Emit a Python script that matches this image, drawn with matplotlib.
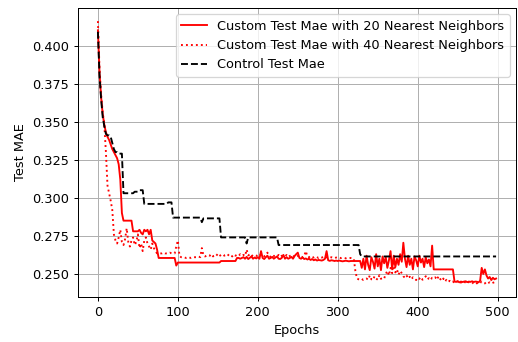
import numpy as np
import matplotlib
matplotlib.use("Agg")
import matplotlib.pyplot as plt

# epochs sampled every 2 epochs
epochs = np.arange(0, 500, 2)

custom_20 = [
    0.410, 0.382, 0.366, 0.355, 0.348, 0.343, 0.340, 0.338, 0.335, 0.332,
    0.330, 0.328, 0.326, 0.322, 0.312, 0.290, 0.285, 0.285, 0.285, 0.285,
    0.285, 0.285, 0.278, 0.278, 0.278, 0.278, 0.279, 0.277, 0.276, 0.279,
    0.278, 0.279, 0.276, 0.279, 0.272, 0.271, 0.270, 0.266, 0.2605, 0.2605,
    0.2605, 0.2605, 0.2605, 0.2605, 0.2605, 0.2605, 0.2605, 0.2605, 0.2605, 0.2555,
    0.2575, 0.2575, 0.2575, 0.2575, 0.2575, 0.2575, 0.2575, 0.2575, 0.2575, 0.2575,
    0.2575, 0.2575, 0.2575, 0.2575, 0.2575, 0.2575, 0.2575, 0.2575, 0.2575, 0.2575,
    0.2575, 0.2575, 0.2575, 0.2575, 0.2575, 0.2575, 0.2575, 0.2585, 0.2585, 0.2585,
    0.2585, 0.2585, 0.2585, 0.2585, 0.2585, 0.2585, 0.2585, 0.2605, 0.2605, 0.2600,
    0.2605, 0.2610, 0.2600, 0.2612, 0.2598, 0.2606, 0.2615, 0.2600, 0.2608, 0.2602,
    0.2610, 0.2600, 0.2650, 0.2605, 0.2598, 0.2610, 0.2620, 0.2600, 0.2605, 0.2612,
    0.2600, 0.2608, 0.2615, 0.2600, 0.2598, 0.2606, 0.2625, 0.2600, 0.2610, 0.2600,
    0.2605, 0.2612, 0.2600, 0.2618, 0.2630, 0.2640, 0.2605, 0.2600, 0.2608, 0.2598,
    0.2602, 0.2595, 0.2600, 0.2592, 0.2598, 0.2590, 0.2595, 0.2588, 0.2592, 0.2590,
    0.2588, 0.2592, 0.2600, 0.2650, 0.2590, 0.2586, 0.2590, 0.2588, 0.2585, 0.2588,
    0.2585, 0.2588, 0.2585, 0.2583, 0.2585, 0.2587, 0.2585, 0.2583, 0.2585, 0.2585,
    0.2585, 0.2585, 0.2585, 0.2585, 0.2585, 0.2540, 0.2600, 0.2530, 0.2620, 0.2560,
    0.2525, 0.2610, 0.2580, 0.2535, 0.2630, 0.2550, 0.2600, 0.2525, 0.2615, 0.2570,
    0.2610, 0.2540, 0.2590, 0.2650, 0.2530, 0.2620, 0.2545, 0.2600, 0.2560, 0.2630,
    0.2580, 0.2705, 0.2600, 0.2545, 0.2620, 0.2560, 0.2600, 0.2530, 0.2615, 0.2590,
    0.2550, 0.2620, 0.2575, 0.2600, 0.2545, 0.2610, 0.2570, 0.2595, 0.2550, 0.2686,
    0.2530, 0.2530, 0.2530, 0.2530, 0.2530, 0.2530, 0.2530, 0.2530, 0.2530, 0.2530,
    0.2530, 0.2530, 0.2530, 0.2450, 0.2448, 0.2452, 0.2445, 0.2450, 0.2447, 0.2450,
    0.2452, 0.2446, 0.2450, 0.2448, 0.2452, 0.2447, 0.2450, 0.2449, 0.2445, 0.2455,
    0.2540, 0.2500, 0.2530, 0.2490, 0.2470, 0.2480, 0.2460, 0.2475, 0.2465, 0.2470,
]

custom_40 = [
    0.416, 0.385, 0.368, 0.356, 0.348, 0.330, 0.308, 0.303, 0.298, 0.292,
    0.276, 0.272, 0.270, 0.274, 0.279, 0.271, 0.269, 0.273, 0.280, 0.271,
    0.268, 0.272, 0.274, 0.269, 0.271, 0.276, 0.267, 0.270, 0.265, 0.272,
    0.274, 0.270, 0.268, 0.266, 0.270, 0.267, 0.265, 0.2635, 0.2635, 0.2635,
    0.2635, 0.2640, 0.2635, 0.2635, 0.2635, 0.2640, 0.2635, 0.2635, 0.2635, 0.2680,
    0.2720, 0.2620, 0.2610, 0.2610, 0.2610, 0.2605, 0.2610, 0.2610, 0.2605, 0.2610,
    0.2610, 0.2610, 0.2610, 0.2615, 0.2610, 0.2670, 0.2620, 0.2615, 0.2620, 0.2625,
    0.2620, 0.2630, 0.2615, 0.2625, 0.2620, 0.2632, 0.2618, 0.2625, 0.2630, 0.2620,
    0.2625, 0.2618, 0.2630, 0.2622, 0.2615, 0.2628, 0.2620, 0.2625, 0.2618, 0.2630,
    0.2620, 0.2625, 0.2618, 0.2660, 0.2622, 0.2628, 0.2615, 0.2625, 0.2620, 0.2618,
    0.2625, 0.2618, 0.2630, 0.2620, 0.2615, 0.2625, 0.2640, 0.2620, 0.2612, 0.2625,
    0.2618, 0.2620, 0.2615, 0.2625, 0.2612, 0.2620, 0.2618, 0.2615, 0.2625, 0.2612,
    0.2618, 0.2625, 0.2615, 0.2620, 0.2612, 0.2618, 0.2622, 0.2615, 0.2610, 0.2618,
    0.2650, 0.2615, 0.2610, 0.2618, 0.2612, 0.2608, 0.2615, 0.2610, 0.2605, 0.2612,
    0.2608, 0.2612, 0.2605, 0.2610, 0.2608, 0.2605, 0.2610, 0.2606, 0.2604, 0.2608,
    0.2605, 0.2608, 0.2604, 0.2606, 0.2605, 0.2603, 0.2606, 0.2604, 0.2605, 0.2603,
    0.2600, 0.2520, 0.2470, 0.2465, 0.2462, 0.2468, 0.2460, 0.2465, 0.2470, 0.2462,
    0.2490, 0.2465, 0.2460, 0.2485, 0.2470, 0.2462, 0.2492, 0.2468, 0.2475, 0.2470,
    0.2500, 0.2520, 0.2490, 0.2540, 0.2505, 0.2570, 0.2510, 0.2530, 0.2495, 0.2520,
    0.2505, 0.2485, 0.2475, 0.2490, 0.2470, 0.2482, 0.2465, 0.2478, 0.2470, 0.2460,
    0.2475, 0.2468, 0.2480, 0.2462, 0.2470, 0.2485, 0.2465, 0.2472, 0.2460, 0.2475,
    0.2470, 0.2478, 0.2462, 0.2485, 0.2468, 0.2455, 0.2470, 0.2450, 0.2462, 0.2448,
    0.2455, 0.2445, 0.2450, 0.2440, 0.2448, 0.2452, 0.2438, 0.2445, 0.2440, 0.2450,
    0.2442, 0.2436, 0.2448, 0.2440, 0.2445, 0.2435, 0.2442, 0.2438, 0.2445, 0.2440,
    0.2450, 0.2442, 0.2438, 0.2448, 0.2440, 0.2445, 0.2437, 0.2442, 0.2446, 0.2440,
]

control = [
    0.409, 0.380, 0.365, 0.353, 0.347, 0.342, 0.341, 0.341, 0.340, 0.336,
    0.332, 0.330, 0.330, 0.329, 0.329, 0.329, 0.303, 0.303, 0.303, 0.303,
    0.303, 0.303, 0.303, 0.304, 0.304, 0.304, 0.305, 0.305, 0.305, 0.296,
    0.296, 0.296, 0.296, 0.296, 0.296, 0.296, 0.296, 0.296, 0.296, 0.296,
    0.296, 0.296, 0.296, 0.296, 0.297, 0.297, 0.297, 0.287, 0.287, 0.287,
    0.287, 0.287, 0.287, 0.287, 0.287, 0.287, 0.287, 0.287, 0.287, 0.287,
    0.287, 0.287, 0.287, 0.287, 0.287, 0.284, 0.2865, 0.2865, 0.2865, 0.2865,
    0.2865, 0.2865, 0.2865, 0.2865, 0.2865, 0.2865, 0.2865, 0.274, 0.274, 0.274,
    0.274, 0.274, 0.274, 0.274, 0.274, 0.274, 0.274, 0.274, 0.274, 0.274,
    0.274, 0.274, 0.274, 0.270, 0.274, 0.274, 0.274, 0.274, 0.274, 0.274,
    0.274, 0.274, 0.274, 0.274, 0.274, 0.274, 0.274, 0.274, 0.274, 0.274,
    0.274, 0.274, 0.274, 0.269, 0.269, 0.269, 0.269, 0.269, 0.269, 0.269,
    0.269, 0.269, 0.269, 0.269, 0.269, 0.269, 0.269, 0.269, 0.269, 0.269,
    0.269, 0.269, 0.269, 0.269, 0.269, 0.269, 0.269, 0.269, 0.269, 0.269,
    0.269, 0.269, 0.269, 0.269, 0.269, 0.269, 0.269, 0.269, 0.269, 0.269,
    0.269, 0.269, 0.269, 0.269, 0.269, 0.269, 0.269, 0.269, 0.269, 0.269,
    0.269, 0.269, 0.269, 0.269, 0.263, 0.2615, 0.2615, 0.2615, 0.2615, 0.2615,
    0.2615, 0.2615, 0.2615, 0.2615, 0.2615, 0.2615, 0.2615, 0.2615, 0.2615, 0.2615,
    0.2615, 0.2615, 0.2615, 0.2615, 0.2615, 0.2615, 0.2615, 0.2615, 0.2615, 0.2615,
    0.2615, 0.2615, 0.2615, 0.2615, 0.2615, 0.2615, 0.2615, 0.2615, 0.2615, 0.2615,
    0.2615, 0.2615, 0.2615, 0.2615, 0.2615, 0.2615, 0.2615, 0.2615, 0.2615, 0.2615,
    0.2615, 0.2615, 0.2615, 0.2615, 0.2615, 0.2615, 0.2615, 0.2615, 0.2615, 0.2615,
    0.2615, 0.2615, 0.2615, 0.2615, 0.2615, 0.2615, 0.2615, 0.2615, 0.2615, 0.2615,
    0.2615, 0.2615, 0.2615, 0.2615, 0.2615, 0.2615, 0.2615, 0.2615, 0.2615, 0.2615,
    0.2615, 0.2615, 0.2615, 0.2615, 0.2615, 0.2615, 0.2615, 0.2615, 0.2615, 0.2615,
]

labels = [
    "Custom Test Mae with 20 Nearest Neighbors",
    "Custom Test Mae with 40 Nearest Neighbors",
    "Control Test Mae",
]

DPI = 90
plt.rcParams["font.size"] = 10.3
fig = plt.figure(figsize=(518 / DPI, 342 / DPI), dpi=DPI)
ax = fig.add_axes([78 / 518, 1 - 297 / 342, (516 - 78) / 518, (297 - 8) / 342])

ax.plot(epochs, custom_20, color="red", linestyle="-", label=labels[0])
ax.plot(epochs, custom_40, color="red", linestyle=":", label=labels[1])
ax.plot(epochs, control, color="black", linestyle="--", label=labels[2])

ax.set_xlabel("Epochs")
ax.set_ylabel("Test MAE")
ax.grid(True)
ax.legend(loc="upper right")

fig.savefig("out.png", dpi=DPI)
